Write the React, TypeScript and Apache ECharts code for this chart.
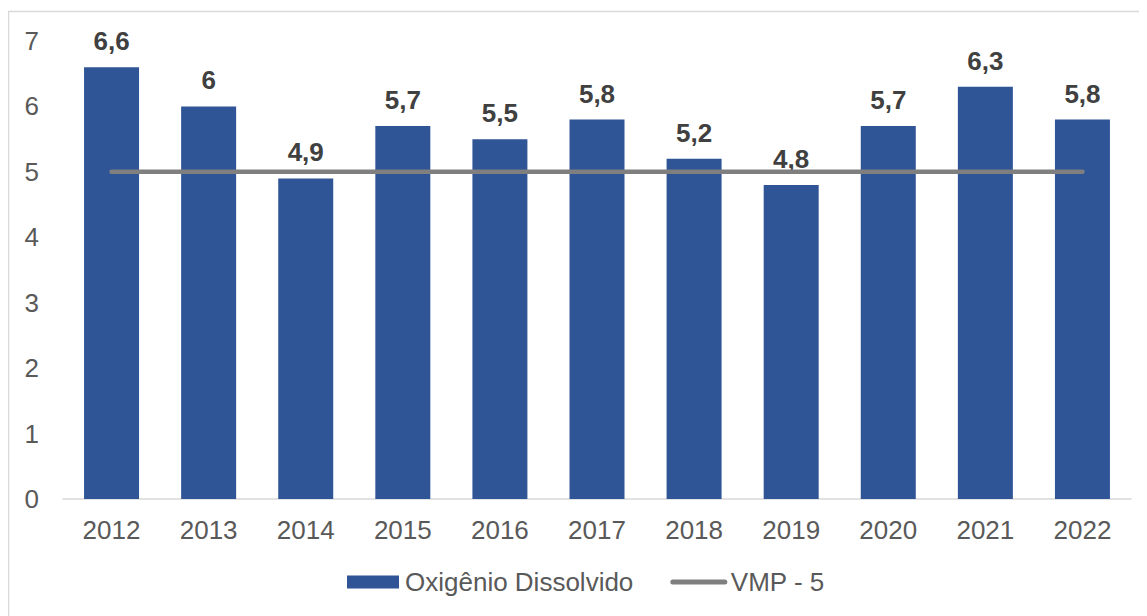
import React, { useEffect, useRef } from "react";
import * as echarts from "echarts";

const categories = ["2012", "2013", "2014", "2015", "2016", "2017", "2018", "2019", "2020", "2021", "2022"];
const oxigenio = [6.6, 6, 4.9, 5.7, 5.5, 5.8, 5.2, 4.8, 5.7, 6.3, 5.8];
const vmp = [5, 5, 5, 5, 5, 5, 5, 5, 5, 5, 5];
const yTicks = { min: 0, max: 7, interval: 1 };

export default function App() {
  const ref = useRef<HTMLDivElement>(null);
  useEffect(() => {
    if (!ref.current) return;
    const chart = echarts.init(ref.current, undefined, { renderer: "svg" });
    const font = "Liberation Sans, Arial, sans-serif";
    chart.setOption({
      animation: false,
      textStyle: { fontFamily: font },
      graphic: [
        {
          type: "rect",
          shape: { x: 0.5, y: 3.5, width: 1160, height: 640 },
          style: { fill: "none", stroke: "#d9d9d9", lineWidth: 1.5 },
          silent: true,
          z: -1,
        },
      ],
      grid: { left: 55, right: 16, top: 33, bottom: 117, containLabel: false },
      xAxis: {
        type: "category",
        data: categories,
        boundaryGap: true,
        axisLine: { lineStyle: { color: "#d9d9d9", width: 1.5 } },
        axisTick: { show: false },
        axisLabel: { color: "#595959", fontSize: 26, margin: 18, fontFamily: font },
      },
      yAxis: {
        type: "value",
        min: yTicks.min,
        max: yTicks.max,
        interval: yTicks.interval,
        splitLine: { show: false },
        axisLine: { show: false },
        axisTick: { show: false },
        axisLabel: { color: "#595959", fontSize: 26, margin: 24, fontFamily: font },
      },
      legend: {
        bottom: 16,
        left: 334,
        itemWidth: 52,
        itemHeight: 13,
        itemGap: 37,
        textStyle: { color: "#595959", fontSize: 26, fontFamily: font, padding: [0, 0, 0, 1] },
        data: [
          { name: "Oxigênio Dissolvido", icon: "rect" },
          {
            name: "VMP - 5",
            itemStyle: { opacity: 0 },
            lineStyle: { width: 5, color: "#7f7f7f", cap: "round" },
          },
        ],
      },
      series: [
        {
          name: "Oxigênio Dissolvido",
          type: "bar",
          data: oxigenio,
          barWidth: 55,
          itemStyle: { color: "#2f5597" },
          label: {
            show: true,
            position: "top",
            distance: 13,
            color: "#404040",
            fontSize: 26,
            fontWeight: "bold",
            fontFamily: font,
            formatter: (p: any) => String(p.value).replace(".", ","),
          },
        },
        {
          name: "VMP - 5",
          type: "line",
          data: vmp,
          symbol: "none",
          lineStyle: { color: "#7f7f7f", width: 4.5, cap: "round" },
          itemStyle: { color: "#7f7f7f" },
          z: 3,
        },
      ],
    });
    return () => chart.dispose();
  }, []);
  return <div ref={ref} style={{ width: 1139, height: 608 }} />;
}
